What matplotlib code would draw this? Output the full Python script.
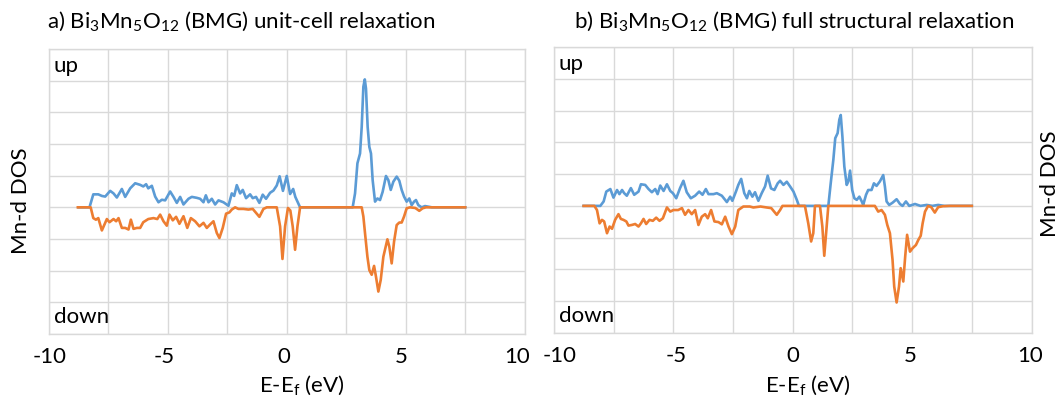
import matplotlib
matplotlib.use("Agg")
import matplotlib.pyplot as plt
from matplotlib.ticker import MultipleLocator

plt.rcParams['font.family'] = ['Lato', 'DejaVu Sans']
plt.rcParams['mathtext.default'] = 'regular'
plt.rcParams['axes.unicode_minus'] = False

x_ticks = [-10, -5, 0, 5, 10]

# a) unit-cell relaxation, spin up
a_up_e = [-8.75, -8.29, -8.13, -7.92, -7.77, -7.63, -7.42, -7.28, -7.14, -6.93, -6.79, -6.58,
          -6.37, -6.16, -6.03, -5.91, -5.82, -5.67, -5.53, -5.39, -5.25, -5.11, -4.90, -4.76,
          -4.62, -4.48, -4.34, -4.13, -3.99, -3.78, -3.64, -3.50, -3.40, -3.29, -3.15, -3.01,
          -2.87, -2.66, -2.45, -2.31, -2.21, -2.10, -1.96, -1.85, -1.71, -1.54, -1.43, -1.29,
          -1.15, -1.01, -0.87, -0.70, -0.56, -0.42, -0.30, -0.16, 0.00, 0.14, 0.27, 0.36,
          0.56, 2.77, 2.87, 2.97, 3.08, 3.15, 3.22, 3.28, 3.33, 3.40, 3.47, 3.54, 3.61, 3.71,
          3.81, 3.92, 4.03, 4.17, 4.27, 4.37, 4.48, 4.62, 4.73, 4.83, 4.93, 5.04, 5.15, 5.25,
          5.35, 5.43, 5.53, 5.67, 5.81, 6.10, 7.50]
a_up = [0, 0, 0.41, 0.41, 0.36, 0.34, 0.52, 0.44, 0.31, 0.58, 0.33, 0.60,
        0.76, 0.71, 0.66, 0.73, 0.60, 0.68, 0.34, 0.16, 0.24, 0.22, 0.50, 0.33,
        0.14, 0.33, 0.09, 0.27, 0.33, 0.30, 0.27, 0.16, 0.38, 0.16, 0.27, 0.09,
        0.22, 0.16, 0.05, 0.44, 0.36, 0.70, 0.44, 0.55, 0.29, 0.41, 0.29, 0.33,
        0.14, 0.40, 0.27, 0.46, 0.53, 0.69, 0.98, 0.52, 0.99, 0.42, 0.58, 0.33,
        0, 0, 0.44, 1.39, 1.70, 2.54, 3.81, 4.04, 3.75, 2.54, 1.91, 1.70, 0.86, 0.18,
        0.28, 0.23, 0.49, 0.99, 0.86, 0.55, 0.81, 0.97, 0.84, 0.55, 0.34, 0.18, 0.28, 0.07,
        0.18, 0.23, 0.07, 0.0, 0.04, 0, 0]

# a) unit-cell relaxation, spin down
a_dn_e = [-8.78, -8.24, -8.13, -8.02, -7.92, -7.77, -7.63, -7.56, -7.45, -7.28, -7.17, -7.07,
          -6.93, -6.79, -6.65, -6.55, -6.44, -6.30, -6.16, -6.03, -5.82, -5.60, -5.44, -5.32,
          -5.18, -5.04, -4.93, -4.79, -4.65, -4.51, -4.34, -4.18, -4.03, -3.85, -3.67, -3.50,
          -3.36, -3.22, -3.08, -2.94, -2.83, -2.69, -2.55, -2.41, -2.31, -2.17, -2.03, -1.82,
          -1.61, -1.43, -1.15, -0.98, -0.84, -0.42, -0.28, -0.18, -0.07, 0.05, 0.15, 0.25,
          0.35, 0.45, 0.56, 3.15, 3.22, 3.29, 3.39, 3.47, 3.57, 3.67, 3.75, 3.85, 3.95, 4.06,
          4.23, 4.31, 4.41, 4.51, 4.62, 4.73, 4.83, 4.93, 5.04, 5.18, 5.40, 5.57, 5.71, 5.85,
          7.50]
a_dn = [0, 0, -0.34, -0.39, -0.34, -0.73, -0.49, -0.37, -0.47, -0.37, -0.44, -0.34,
        -0.65, -0.65, -0.70, -0.39, -0.68, -0.65, -0.65, -0.47, -0.37, -0.34, -0.37, -0.23,
        -0.44, -0.58, -0.23, -0.41, -0.30, -0.52, -0.28, -0.65, -0.34, -0.44, -0.60, -0.49,
        -0.65, -0.54, -0.44, -0.81, -0.97, -0.65, -0.20, -0.16, -0.07, 0, -0.05, -0.05,
        -0.07, -0.05, -0.30, -0.05, 0, 0, -0.60, -1.63, -0.60, -0.02, -0.10, -0.60,
        -1.34, -0.60, 0, 0, -0.29, -0.82, -1.56, -1.98, -2.13, -1.85, -2.19, -2.66, -2.29, -1.56,
        -1.01, -1.24, -1.77, -1.08, -0.56, -0.48, -0.48, -0.29, -0.03, 0, -0.02, -0.11, -0.03, 0,
        0]

# b) full structural relaxation, spin up
b_up_e = [-8.76, -8.06, -7.92, -7.81, -7.64, -7.51, -7.36, -7.26, -7.15, -7.06, -6.95, -6.78,
          -6.64, -6.46, -6.36, -6.18, -6.04, -5.90, -5.76, -5.66, -5.55, -5.41, -5.27, -5.13,
          -5.02, -4.88, -4.72, -4.58, -4.44, -4.27, -4.09, -3.92, -3.78, -3.64, -3.53, -3.32,
          -3.18, -2.97, -2.76, -2.62, -2.53, -2.38, -2.28, -2.16, -2.03, -1.92, -1.82, -1.69,
          -1.58, -1.44, -1.30, -1.16, -1.05, -0.91, -0.77, -0.63, -0.53, -0.39, -0.25, -0.11,
          0.03, 0.17, 0.26, 1.49, 1.59, 1.70, 1.78, 1.88, 1.95, 2.01, 2.08, 2.16, 2.26, 2.33,
          2.40, 2.49, 2.58, 2.68, 2.79, 2.89, 2.95, 3.07, 3.16, 3.30, 3.40, 3.51, 3.65, 3.79,
          3.86, 3.93, 4.04, 4.18, 4.35, 4.49, 4.60, 4.74, 4.88, 5.12, 5.35, 5.61, 5.85, 6.09,
          6.35, 7.50]
b_up = [0, 0, 0.14, 0.45, 0.53, 0.26, 0.50, 0.37, 0.50, 0.40, 0.32, 0.56,
        0.35, 0.45, 0.68, 0.66, 0.53, 0.43, 0.53, 0.37, 0.64, 0.47, 0.68, 0.47,
        0.40, 0.24, 0.56, 0.79, 0.43, 0.24, 0.32, 0.45, 0.35, 0.53, 0.37, 0.37,
        0.40, 0.32, 0.12, 0.29, 0.16, 0.45, 0.66, 0.85, 0.40, 0.24, 0.47, 0.29,
        0.43, 0.16, 0.40, 0.61, 0.95, 0.55, 0.50, 0.71, 0.79, 0.66, 0.76, 0.61,
        0.45, 0.19, 0, 0, 0.71, 1.45, 2.13, 2.29, 2.71, 2.86, 2.18, 1.24, 0.66, 0.77,
        1.11, 0.50, 0.24, 0.19, 0.29, 0.14, 0.03, 0.35, 0.50, 0.50, 0.71, 0.63, 0.77, 0.97,
        0.61, 0.14, 0.03, 0.10, 0.21, 0.06, 0, 0.14, 0, 0.06, 0, 0.03, 0, 0.03,
        0, 0]

# b) full structural relaxation, spin down
b_dn_e = [-8.76, -8.31, -8.20, -8.09, -7.99, -7.90, -7.78, -7.67, -7.57, -7.44, -7.30, -7.20,
          -7.09, -6.97, -6.88, -6.74, -6.60, -6.46, -6.36, -6.25, -6.14, -6.00, -5.86, -5.72,
          -5.58, -5.44, -5.27, -5.13, -5.00, -4.80, -4.64, -4.51, -4.37, -4.23, -4.09, -3.95,
          -3.81, -3.67, -3.56, -3.42, -3.28, -3.11, -2.97, -2.83, -2.69, -2.55, -2.41, -2.28,
          -2.07, -1.80, -1.65, -1.35, -1.09, -0.90, -0.67, -0.53, -0.43, 0.51, 0.65, 0.77,
          0.86, 0.93, 1.14, 1.24, 1.32, 1.42, 1.49, 3.44, 3.58, 3.72, 3.86, 3.96, 4.07, 4.18,
          4.25, 4.35, 4.45, 4.52, 4.63, 4.71, 4.79, 4.91, 5.02, 5.16, 5.26, 5.36, 5.44, 5.54,
          5.67, 5.80, 5.95, 6.09, 6.30, 6.58, 7.50]
b_dn = [0, 0, -0.13, -0.55, -0.44, -0.49, -0.86, -0.65, -0.72, -0.44, -0.26, -0.41,
        -0.44, -0.49, -0.62, -0.60, -0.57, -0.65, -0.55, -0.41, -0.57, -0.44, -0.47, -0.37,
        -0.47, -0.39, -0.05, -0.18, -0.13, -0.13, -0.07, -0.28, -0.13, -0.26, -0.13, -0.60,
        -0.34, -0.26, -0.39, -0.13, -0.49, -0.51, -0.58, -0.34, -0.65, -0.89, -0.65, -0.13,
        -0.02, -0.02, -0.05, -0.02, -0.05, -0.07, -0.28, -0.13, 0, 0, -0.55, -1.12,
        -0.86, 0, 0, -0.65, -1.57, -0.65, 0, 0, -0.18, -0.13, -0.28, -0.60, -0.86, -1.70,
        -2.54, -3.04, -2.54, -1.96, -2.38, -1.59, -0.91, -1.44, -1.33, -1.23, -1.07, -0.94, -0.55, -0.18,
        0, -0.04, -0.21, -0.04, -0.01, 0, 0]

BLUE = '#5B9BD5'
ORANGE = '#ED7D31'
GRID = '#D9D9D9'
FS = 16

W, H = 1063, 403
fig = plt.figure(figsize=(W / 100, H / 100), dpi=100)


def box(l, r, t, b):
    return [l / W, 1 - b / H, (r - l) / W, (b - t) / H]


def panel(rect, up_e, up, dn_e, dn, label_shift):
    ax = fig.add_axes(rect)
    ax.plot(up_e, up, color=BLUE, lw=1.9, solid_joinstyle='round')
    ax.plot(dn_e, dn, color=ORANGE, lw=1.9, solid_joinstyle='round')
    ax.set_xlim(-10, 10)
    ax.set_ylim(-4, 5)
    ax.set_xticks(x_ticks)
    ax.set_xticklabels([])
    ax.xaxis.set_minor_locator(MultipleLocator(2.5))
    ax.yaxis.set_major_locator(MultipleLocator(1))
    ax.set_yticklabels([])
    ax.grid(True, which='both', color=GRID, lw=1)
    ax.set_axisbelow(True)
    ax.tick_params(which='both', length=0)
    for s in ax.spines.values():
        s.set_color(GRID)
        s.set_linewidth(1)
    # tick labels drawn by hand so the neighbouring "10" / "-10" keep apart
    for v, dx in zip(x_ticks, label_shift):
        ax.annotate(str(v), xy=(v, 0), xycoords=('data', 'axes fraction'),
                    xytext=(dx, -13), textcoords='offset pixels',
                    ha='center', va='top', fontsize=FS)
    ax.text(0.01, 0.975, 'up', transform=ax.transAxes, fontsize=FS, va='top')
    ax.text(0.01, 0.025, 'down', transform=ax.transAxes, fontsize=FS, va='bottom')
    return ax


ax1 = panel(box(48.8, 524.7, 49, 334), a_up_e, a_up, a_dn_e, a_dn, [1, -4, -3, -4, -8])
ax2 = panel(box(554, 1031.5, 47, 333), b_up_e, b_up, b_dn_e, b_dn, [6, 3, 0, -2, -1])

fig.text(47 / W, 1 - 21 / H, 'a) Bi$_3$Mn$_5$O$_{12}$ (BMG) unit-cell relaxation',
         fontsize=FS, ha='left', va='center')
fig.text(794 / W, 1 - 21 / H, 'b) Bi$_3$Mn$_5$O$_{12}$ (BMG) full structural relaxation',
         fontsize=FS, ha='center', va='center')
fig.text(302 / W, 1 - 385 / H, 'E-E$_f$ (eV)', fontsize=FS, ha='center', va='center')
fig.text(808 / W, 1 - 385 / H, 'E-E$_f$ (eV)', fontsize=FS, ha='center', va='center')
fig.text(21 / W, 1 - 201 / H, 'Mn-d DOS', fontsize=FS, rotation=90, ha='center', va='center')
fig.text(1050 / W, 1 - 184 / H, 'Mn-d DOS', fontsize=FS, rotation=90, ha='center', va='center')

fig.savefig('out.png', dpi=100)
